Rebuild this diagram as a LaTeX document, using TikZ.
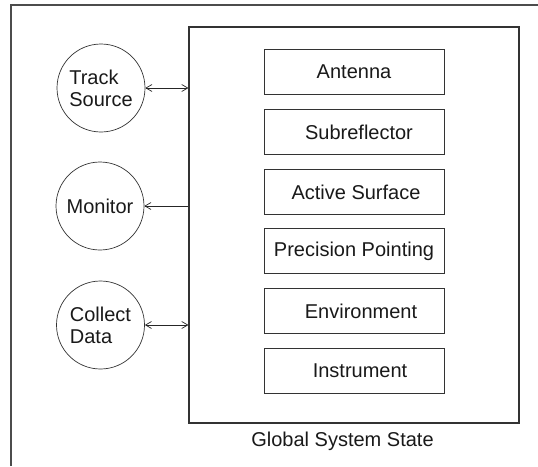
\documentclass[tikz,border=0pt]{standalone}
\usepackage{fontspec}
\setmainfont{Liberation Sans}
\usetikzlibrary{arrows.meta}
\begin{document}
\begin{tikzpicture}[x=1pt,y=-1pt,
  every node/.style={font=\fontsize{20}{22}\selectfont, text=black!90},
  proc/.style={draw=black!80, line width=0.7pt, circle, minimum size=88pt, inner sep=0pt, align=left},
  part/.style={draw=black!80, line width=1pt, rectangle, minimum width=180pt, minimum height=45pt, inner sep=0pt},
  statebox/.style={draw=black!80, line width=1.2pt, rectangle, minimum width=330pt, minimum height=396pt, inner sep=0pt},
  conn/.style={draw=black!85, line width=0.8pt},
  tip/.tip={Straight Barb[length=6pt,width=7pt,line width=0.7pt]}
]
\useasboundingbox (0,0) rectangle (538,466);
% outer frame (open at right and bottom)
\draw[line width=1.6pt, draw=black!70] (11,466) -- (11,5) -- (538,5);
% global state box
\node[statebox] (gss) at (354,225) {};
\node (gsslabel) at (342.5,441) {Global System State};
% parts
\node[part] (ant) at (354,72) {Antenna};
\node[part] (sub) at (354,132) {\hspace*{10pt}Subreflector};
\node[part] (act) at (354,192) {\hspace*{4pt}Active Surface};
\node[part] (pp)  at (354,251) {Precision Pointing};
\node[part] (env) at (354,311) {\hspace*{14pt}Environment};
\node[part] (ins) at (354,371) {\hspace*{12pt}Instrument};
% processes
\node[proc] (ts) at (101,88) {Track\\Source};
\node[proc] (mon) at (100,206) {Monitor};
\node[proc] (cd) at (100.5,325) {Collect\\Data};
% connectors
\draw[conn, {tip}-{tip}] (ts.east) -- (ts.east -| gss.west);
\draw[conn, -{tip}] (mon.east -| gss.west) -- (mon.east);
\draw[conn, {tip}-{tip}] (cd.east) -- (cd.east -| gss.west);
\end{tikzpicture}
\end{document}
